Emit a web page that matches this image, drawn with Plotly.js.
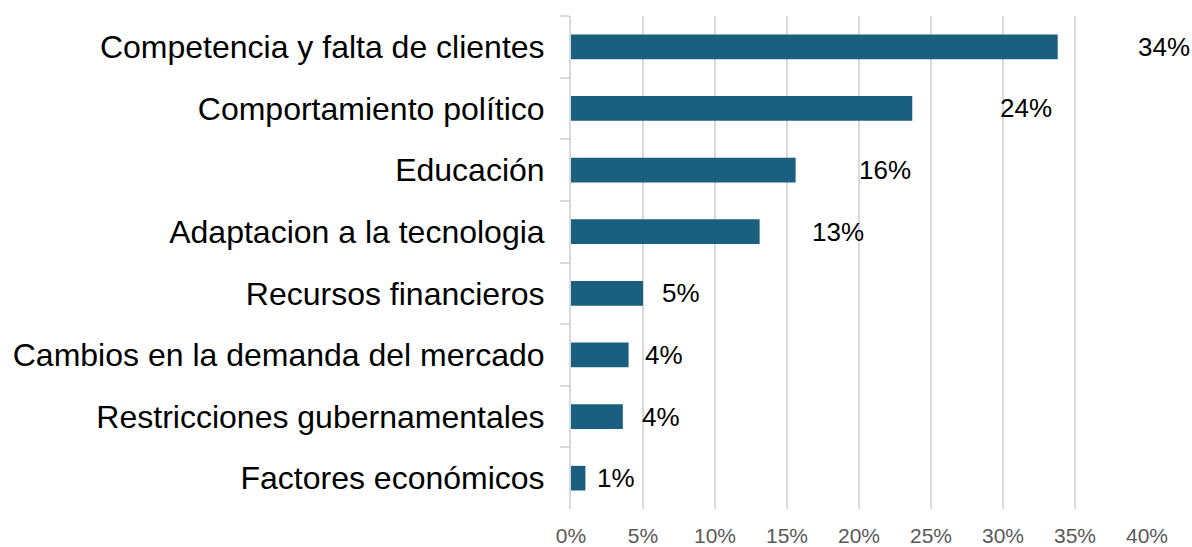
<!DOCTYPE html>
<html>
<head>
<meta charset="utf-8">
<script src="https://cdn.plot.ly/plotly-3.0.1.min.js"></script>
<style>html,body{margin:0;padding:0;background:#fff;}#chart{width:1192px;height:547px;}</style>
</head>
<body>
<div id="chart"></div>
<script>
// Data (top to bottom)
const categories = [
  "Competencia y falta de clientes",
  "Comportamiento político",
  "Educación",
  "Adaptacion a la tecnologia",
  "Recursos financieros",
  "Cambios en la demanda del mercado",
  "Restricciones gubernamentales",
  "Factores económicos"
];
const values = [33.8, 23.7, 15.6, 13.1, 5.0, 4.0, 3.6, 1.0];
const labels = values.map(v => Math.round(v) + "%");
const tickVals = [0, 5, 10, 15, 20, 25, 30, 35, 40];
const tickText = tickVals.map(v => v + "%");

// Style: horizontal pixel offset of each data label from its bar end
const labelShift = [78, 86, 61, 50, 17, 14, 17, 10];

const font = "Liberation Sans, Arial, sans-serif";

const trace = {
  type: "bar",
  orientation: "h",
  y: categories,
  x: values,
  marker: {color: "#1a5f80"},
  hoverinfo: "none"
};

const annotations = categories.map((c, i) => ({
  x: values[i],
  y: c,
  xref: "x",
  yref: "y",
  text: labels[i],
  showarrow: false,
  xanchor: "left",
  yanchor: "middle",
  xshift: labelShift[i],
  font: {family: font, size: 26, color: "#000000"}
}));

const layout = {
  width: 1192,
  height: 547,
  margin: {l: 571, r: 45, t: 16, b: 38},
  paper_bgcolor: "#ffffff",
  plot_bgcolor: "#ffffff",
  bargap: 0.6,
  showlegend: false,
  font: {family: font},
  xaxis: {
    range: [0, 40],
    tickvals: tickVals,
    ticktext: tickText,
    showgrid: true,
    gridcolor: "#d9d9d9",
    gridwidth: 2,
    zeroline: false,
    showline: false,
    ticks: "",
    ticklabelstandoff: 12,
    tickfont: {family: font, size: 21, color: "#595959"},
    fixedrange: true
  },
  yaxis: {
    autorange: "reversed",
    showgrid: false,
    zeroline: false,
    showline: true,
    linecolor: "#d9d9d9",
    linewidth: 2,
    ticks: "outside",
    tickson: "boundaries",
    ticklen: 9,
    tickcolor: "#d9d9d9",
    tickwidth: 2,
    ticklabelstandoff: 18,
    tickfont: {family: font, size: 32, color: "#000000"},
    fixedrange: true
  },
  annotations: annotations
};

Plotly.newPlot("chart", [trace], layout, {displayModeBar: false, staticPlot: true});
</script>
</body>
</html>
